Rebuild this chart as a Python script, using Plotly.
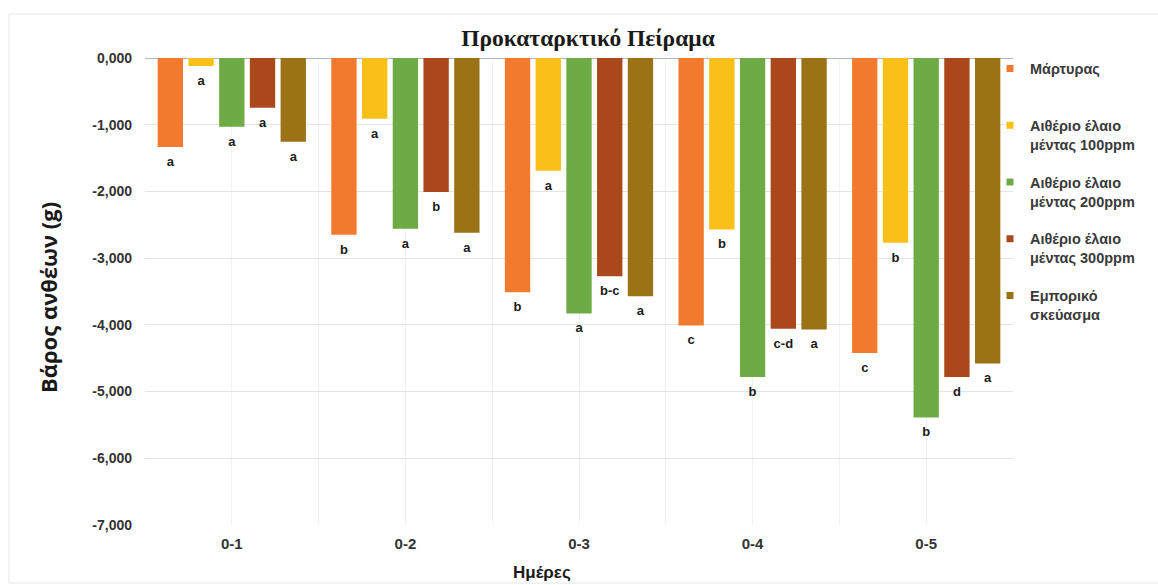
import plotly.graph_objects as go

# Flower weight change (g) per day interval and treatment
days = ["0-1", "0-2", "0-3", "0-4", "0-5"]
day_idx = [0, 1, 2, 3, 4]

series_names = [
    "Μάρτυρας",
    "Αιθέριο έλαιο<br>μέντας 100ppm",
    "Αιθέριο έλαιο<br>μέντας 200ppm",
    "Αιθέριο έλαιο<br>μέντας 300ppm",
    "Εμπορικό<br>σκεύασμα",
]

control = [-1.335, -2.65, -3.51, -4.01, -4.42]
mint_100 = [-0.12, -0.91, -1.69, -2.57, -2.77]
mint_200 = [-1.03, -2.56, -3.83, -4.78, -5.39]
mint_300 = [-0.745, -2.01, -3.27, -4.06, -4.78]
commercial = [-1.255, -2.62, -3.57, -4.07, -4.58]

# Significance letters shown under each bar
letters_control = ["a", "b", "b", "c", "c"]
letters_100 = ["a", "a", "a", "b", "b"]
letters_200 = ["a", "a", "a", "b", "b"]
letters_300 = ["a", "b", "b-c", "c-d", "d"]
letters_commercial = ["a", "a", "a", "a", "a"]

y_ticks = [0, -1, -2, -3, -4, -5, -6, -7]
y_tick_text = [f"{v:.3f}".replace(".", ",") for v in y_ticks]

colors = ["#F27A2E", "#F8C018", "#6EAB44", "#AA481C", "#9B7215"]

values = [control, mint_100, mint_200, mint_300, commercial]
letters = [letters_control, letters_100, letters_200, letters_300, letters_commercial]

BARGAP = 0.115
BARGROUPGAP = 0.175
n_series = len(values)
slot = (1 - BARGAP) / n_series

SANS = "Liberation Sans, Arial, sans-serif"
SERIF = "Liberation Serif, Times New Roman, serif"
TITLE_SANS = "Open Sans, Liberation Sans, sans-serif"

fig = go.Figure()

for k, (vals, col) in enumerate(zip(values, colors)):
    fig.add_trace(go.Bar(
        x=day_idx, y=vals, marker=dict(color=col, line=dict(width=0)),
        showlegend=False, hoverinfo="skip",
    ))

# Letter labels placed just below the end of each bar
for k, (vals, labs) in enumerate(zip(values, letters)):
    xs = [i + (k - (n_series - 1) / 2) * slot for i in day_idx]
    fig.add_trace(go.Scatter(
        x=xs, y=vals, mode="markers+text", text=labs,
        textposition="bottom center",
        textfont=dict(family=SANS, size=13, color="#1a1a1a", weight="bold"),
        marker=dict(size=13, opacity=0),
        showlegend=False, hoverinfo="skip",
    ))

# Legend keys
for k, (name, col) in enumerate(zip(series_names, colors)):
    label = name if "<br>" in name else name + "<br>\u00a0"
    fig.add_trace(go.Scatter(
        x=[None], y=[None], mode="markers", name=label,
        marker=dict(symbol="square", size=7, color=col),
        legendgroup=f"g{k}",
    ))

fig.update_layout(
    width=1158, height=585,
    margin=dict(l=145, r=145, t=58, b=60),
    paper_bgcolor="white", plot_bgcolor="white",
    barmode="group", bargap=BARGAP, bargroupgap=BARGROUPGAP,
    title=dict(
        text="<b>Προκαταρκτικό Πείραμα</b>",
        font=dict(family=SERIF, size=23.5, color="#1a1a1a"),
        x=(588 - 145) / 868, xref="paper", xanchor="center",
        y=1 - 38 / 585, yref="container", yanchor="middle",
    ),
    legend=dict(
        x=(990 - 145) / 868, xanchor="left", y=1.0114, yanchor="top",
        font=dict(family=SANS, size=14.5, color="#3a3a3a", weight="bold"),
        valign="top", tracegroupgap=16, traceorder="grouped",
        bgcolor="rgba(0,0,0,0)", itemclick=False,
    ),
    xaxis=dict(
        range=[-0.5, 4.5], tickmode="array", tickvals=day_idx, ticktext=days,
        tickfont=dict(family=SANS, size=15, color="#333333", weight="bold"),
        showgrid=True, gridcolor="#F1F1F1", gridwidth=1,
        minor=dict(tick0=0.5, dtick=1, showgrid=True, gridcolor="#F1F1F1"),
        zeroline=False, showline=False, ticks="", ticklabelstandoff=8,
    ),
    yaxis=dict(
        range=[-7, 0], tickmode="array", tickvals=y_ticks, ticktext=y_tick_text,
        tickfont=dict(family=SANS, size=14, color="#333333", weight="bold"),
        showgrid=True, gridcolor="#E4E4E4", gridwidth=1,
        zeroline=True, zerolinecolor="#A9B6CA", zerolinewidth=1,
        showline=False, ticks="", ticklabelstandoff=12,
    ),
    annotations=[
        dict(text="<b>Βάρος ανθέων (g)</b>", textangle=-90,
             x=(48 - 145) / 868, y=(525 - 298) / 467, xref="paper", yref="paper",
             xanchor="center", yanchor="middle", showarrow=False,
             font=dict(family=TITLE_SANS, size=22, color="#1a1a1a")),
        dict(text="<b>Ημέρες</b>",
             x=(542 - 145) / 868, y=(525 - 572) / 467, xref="paper", yref="paper",
             xanchor="center", yanchor="middle", showarrow=False,
             font=dict(family=SANS, size=17, color="#1a1a1a")),
    ],
    shapes=[
        dict(type="rect", xref="paper", yref="paper",
             x0=(9 - 145) / 868, x1=(1170 - 145) / 868,
             y0=(525 - 583) / 467, y1=(525 - 14) / 467,
             line=dict(color="#E6E6E6", width=1), layer="below"),
    ],
)

fig.write_html("out.html")
